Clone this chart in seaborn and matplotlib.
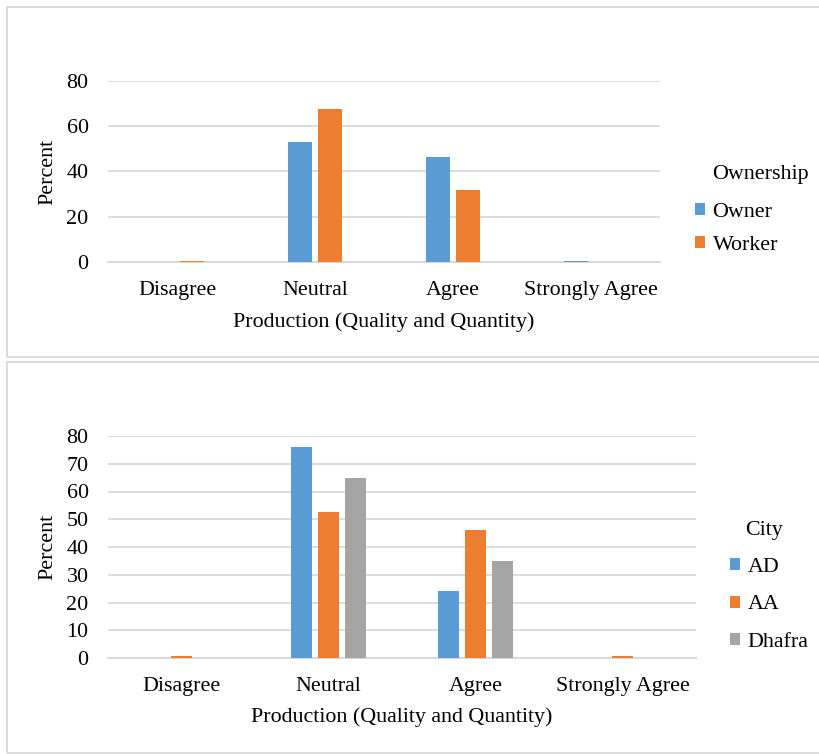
import matplotlib
matplotlib.use("Agg")
import matplotlib.pyplot as plt
from matplotlib.patches import Rectangle
import pandas as pd
import seaborn as sns

# Survey responses on production (quality and quantity), in percent
categories = ["Disagree", "Neutral", "Agree", "Strongly Agree"]

ownership_groups = ["Owner", "Worker"]
owner_pct = [0.0, 53.0, 46.4, 0.6]
worker_pct = [0.6, 67.6, 31.8, 0.0]

city_groups = ["AD", "AA", "Dhafra"]
ad_pct = [0.0, 76.0, 24.0, 0.0]
aa_pct = [0.6, 52.6, 46.2, 0.6]
dhafra_pct = [0.0, 65.0, 35.0, 0.0]

y_ticks_top = [0, 20, 40, 60, 80]
y_ticks_bottom = [0, 10, 20, 30, 40, 50, 60, 70, 80]

x_title = "Production (Quality and Quantity)"
y_title = "Percent"


def long_table(groups, series, key):
    rows = []
    for g, vals in zip(groups, series):
        for c, v in zip(categories, vals):
            rows.append({"Category": c, key: g, "Percent": v})
    return pd.DataFrame(rows)


own_df = long_table(ownership_groups, [owner_pct, worker_pct], "Ownership")
city_df = long_table(city_groups, [ad_pct, aa_pct, dhafra_pct], "City")

sns.set_theme(style="white")
plt.rcParams["font.family"] = ["Liberation Serif", "DejaVu Serif"]
plt.rcParams["text.color"] = "black"

W, H = 820, 754
fig = plt.figure(figsize=(W / 100, H / 100), dpi=100)

GRID = "#D9D9D9"
FS = 15.8
palette = ["#5B9BD5", "#ED7D31", "#A5A5A5"]


def px(x, y):
    return x / W, 1 - y / H


# Panel frames
for (x0, y0, x1, y1) in [(7, 7, 830, 357), (7, 362, 830, 753)]:
    fig.patches.append(Rectangle(px(x0, y1), (x1 - x0) / W, (y1 - y0) / H,
                                 transform=fig.transFigure, fill=False,
                                 edgecolor=GRID, linewidth=1.3))


def panel(df, hue, groups, ticks, rect, width, gap, leg_x, title_xy, rows_y,
          ylab_xy, xlab_xy):
    left, top, right, bottom = rect
    ax = fig.add_axes([left / W, 1 - bottom / H, (right - left) / W, (bottom - top) / H])
    sns.barplot(data=df, x="Category", y="Percent", hue=hue, hue_order=groups,
                order=categories, palette=palette[:len(groups)], width=width,
                gap=gap, linewidth=0, saturation=1, ax=ax, errorbar=None)
    ax.set_ylim(0, ticks[-1])
    ax.set_yticks(ticks)
    ax.set_xlim(-0.5, 3.5)
    ax.yaxis.grid(True, color=GRID, linewidth=1.3)
    ax.set_axisbelow(True)
    for s in ["top", "right", "left"]:
        ax.spines[s].set_visible(False)
    ax.spines["bottom"].set_color(GRID)
    ax.spines["bottom"].set_linewidth(1.5)
    ax.spines["bottom"].set_zorder(0.6)
    ax.tick_params(axis="x", length=0, pad=14, labelsize=FS, labelcolor="black")
    ax.tick_params(axis="y", length=0, pad=14, labelsize=FS, labelcolor="black")
    ax.set_xlabel("")
    ax.set_ylabel("")
    fig.text(*px(*ylab_xy), y_title, rotation=90, ha="center", va="center", fontsize=FS)
    fig.text(*px(*xlab_xy), x_title, ha="center", va="center", fontsize=FS)

    handles, labels = ax.get_legend_handles_labels()
    ax.legend(handles, labels, loc="upper left",
              bbox_to_anchor=px(leg_x, rows_y[0]), bbox_transform=fig.transFigure,
              frameon=False, borderpad=0, borderaxespad=0, fontsize=FS,
              handlelength=0.47, handleheight=0.47, handletextpad=0.33,
              labelspacing=rows_y[1])
    fig.text(*px(*title_xy), hue, ha="left", va="center", fontsize=FS)
    return ax


panel(own_df, "Ownership", ownership_groups, y_ticks_top, (108, 81, 660, 262),
      0.443, 0.215, 695, (712, 175), (203, 0.64), (48, 172), (384, 322))
panel(city_df, "City", city_groups, y_ticks_bottom, (108, 436, 696, 658),
      0.551, 0.22, 730, (745, 530), (558, 0.84), (48, 547), (402, 717))

fig.savefig("out.png", dpi=100)
